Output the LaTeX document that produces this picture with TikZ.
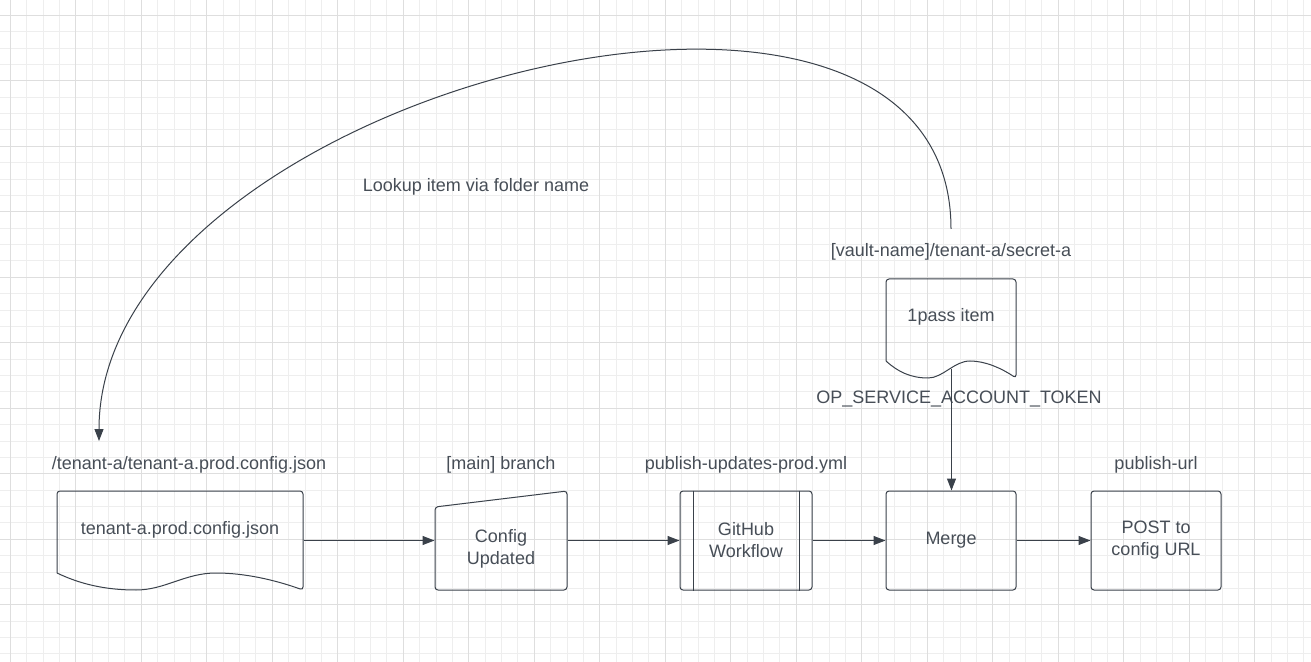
\documentclass[tikz,border=0pt]{standalone}
\usepackage{fontspec}
\setmainfont{Liberation Sans}
\usepackage{xcolor}
\usepackage{tikz}
\usetikzlibrary{arrows.meta,shapes,backgrounds,fit}

\definecolor{linegray}{HTML}{3A414A}
\definecolor{textgray}{HTML}{474E57}
\definecolor{gridminor}{HTML}{EEEEEE}
\definecolor{gridmajor}{HTML}{DEDEDE}

\begin{document}
\begin{tikzpicture}[x=0.5pt,y=-0.5pt]
      \tikzstyle{box}=[draw=linegray, line width=0.5pt, rounded corners=1.5pt, minimum width=65pt, minimum height=49.5pt, text=textgray, align=center, font=\fontsize{9}{11}\selectfont]
      \tikzstyle{body}=[box, draw=none]
      \tikzstyle{node_text}=[text=textgray, font=\fontsize{9}{11}\selectfont]
      \tikzstyle{outline}=[draw=linegray, line width=0.5pt]
      \tikzstyle{flow}=[linegray, line width=0.5pt, -{Triangle[length=6pt,width=4.5pt]}]

      % paper and grid
      \fill[white] (0,0) rectangle (1311,662);
      \useasboundingbox (0,0) rectangle (1311,662);
      \foreach \i in {0,...,81}
        \draw[gridminor, line width=0.5pt] (-6.075+16.375*\i,0) -- (-6.075+16.375*\i,662);
      \foreach \i in {0,...,41}
        \draw[gridminor, line width=0.5pt] (0,-1.075+16.375*\i) -- (1311,-1.075+16.375*\i);
      \foreach \i in {0,...,19}
        \draw[gridmajor, line width=0.5pt] (10.3+65.5*\i,0) -- (10.3+65.5*\i,662);
      \foreach \i in {0,...,10}
        \draw[gridmajor, line width=0.5pt] (0,15.3+65.5*\i) -- (1311,15.3+65.5*\i);

      % config file
      \node (cfgdoc) [body, minimum width=123pt] at (180,540.5) {};
      \draw[outline] (57,573) [rounded corners=1.5pt] -- (57,491) -- (303,491) -- (303,590) [sharp corners]
        .. controls (275,580) and (245,573) .. (216,573)
        .. controls (185,573) and (165,590) .. (136,590)
        .. controls (105,590) and (80,584) .. (57,573);
      \node (cfgdoctxt) at (180,530) [node_text] {tenant-a.prod.config.json};
      \node (cfglbl) at (189,465) [node_text] {/tenant-a/tenant-a.prod.config.json};

      % branch
      \node (cfgupd) [body, minimum width=66pt] at (501,540.5) {};
      \draw[outline, rounded corners=1.5pt] (435,590) -- (435,507) -- (567,491) -- (567,590) -- cycle;
      \node (cfgupdtxt) at (501,548.5) [node_text, align=center] {Config\\Updated};
      \node (branchlbl) at (501,465) [node_text] {[main] branch};

      % workflow
      \node (ghwf) [box, minimum width=66pt] at (746,540.5) {GitHub\\Workflow};
      \draw[outline] ([xshift=7pt]ghwf.north west) -- ([xshift=7pt]ghwf.south west);
      \draw[outline] ([xshift=-6.5pt]ghwf.north east) -- ([xshift=-6.5pt]ghwf.south east);
      \node (wflbl) at (746,465) [node_text] {publish-updates-prod.yml};

      \node (merge) [box] at (951,540.5) {Merge};

      \node (post) [box] at (1156,540.5) {POST to\\config URL};
      \node (urllbl) at (1156,465) [node_text] {publish-url};

      % 1password item
      \node (opitem) [body, minimum height=49pt] at (951,328) {};
      \draw[outline] (886,361) [rounded corners=1.5pt] -- (886,279) -- (1016,279) -- (1016,378) [sharp corners]
        .. controls (1001,368) and (985,361) .. (970,361)
        .. controls (954,361) and (943,378) .. (928,378)
        .. controls (911,378) and (898,372) .. (886,361);
      \node (opitemtxt) at (951,317) [node_text] {1pass item};
      \node (vaultlbl) at (951,252) [node_text] {[vault-name]/tenant-a/secret-a};
      \node (toklbl) at (959,399) [node_text] {OP\_SERVICE\_ACCOUNT\_TOKEN};

      % connectors
      \draw[flow] (cfgdoc.east) -- (cfgupd.west);
      \draw[flow] (cfgupd.east) -- (ghwf.west);
      \draw[flow] (ghwf.east) -- (merge.west);
      \draw[flow] (merge.east) -- (post.west);
      \coordinate (optok) at (951.5,369);
      \draw[flow] (optok) -- (merge.north -| optok);

      \coordinate (vaultlink) at (951,229);
      \coordinate (cfglink) at (99,441);
      \draw[flow] (vaultlink) .. controls +(0,-350) and +(0,-350) .. (cfglink);
      \node (lookuplbl) at (476,187) [node_text] {Lookup item via folder name};
    \end{tikzpicture}
\end{document}
